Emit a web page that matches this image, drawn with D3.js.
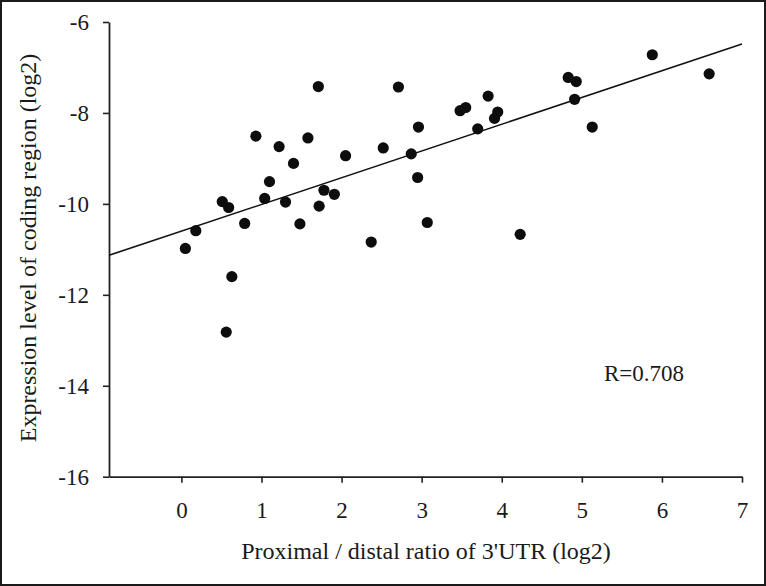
<!DOCTYPE html>
<html>
<head>
<meta charset="utf-8">
<script src="https://cdn.jsdelivr.net/npm/d3@7"></script>
<style>
  html, body { margin: 0; padding: 0; background: #fff; }
  svg { display: block; }
  text { font-family: "Liberation Serif", "Times New Roman", serif; fill: #1a1a1a; }
</style>
</head>
<body>
<svg id="chart" width="766" height="586"></svg>
<script>
// ---- data ----
const xValues = [0.05, 0.18, 0.51, 0.59, 0.56, 0.63, 0.79, 0.93, 1.04, 1.10,
                 1.22, 1.30, 1.40, 1.48, 1.58, 1.71, 1.72, 1.78, 1.91, 2.05,
                 2.37, 2.52, 2.71, 2.87, 2.95, 2.96, 3.07, 3.48, 3.55, 3.70,
                 3.83, 3.91, 3.95, 4.23, 4.83, 4.93, 4.91, 5.13, 5.88, 6.59];
const yValues = [-10.98, -10.59, -9.95, -10.08, -12.82, -11.60, -10.43, -8.51, -9.88, -9.51,
                 -8.74, -9.96, -9.11, -10.44, -8.55, -7.42, -10.05, -9.70, -9.79, -8.94,
                 -10.84, -8.77, -7.43, -8.90, -9.42, -8.31, -10.41, -7.95, -7.88, -8.35,
                 -7.63, -8.12, -7.98, -10.67, -7.22, -7.31, -7.70, -8.31, -6.72, -7.14];
const xTicks = [0, 1, 2, 3, 4, 5, 6, 7];
const yTicks = [-6, -8, -10, -12, -14, -16];
const xDomain = [-0.904, 7];
const yDomain = [-16, -6];
const fitSlope = 0.588;
const fitIntercept = -10.60;
const xTitle = "Proximal / distal ratio of 3'UTR (log2)";
const yTitle = "Expression level of coding region (log2)";
const rLabel = "R=0.708";

// ---- drawing ----
(function () {
const svg = d3.select("#chart");
const W = 766, H = 586;
const mLeft = 109, mRight = 742, mTop = 22, mBottom = 476.7;

svg.append("rect").attr("x", 1).attr("y", 1).attr("width", W - 2).attr("height", H - 2)
  .attr("fill", "#fff").attr("stroke", "#1a1a1a").attr("stroke-width", 2);

const x = d3.scaleLinear().domain(xDomain).range([mLeft, mRight]);
const y = d3.scaleLinear().domain(yDomain).range([mBottom, mTop]);

const fs = 23;

const yAxis = svg.append("g").attr("transform", `translate(${mLeft},0)`)
  .call(d3.axisLeft(y).tickValues(yTicks).tickSize(6).tickSizeOuter(0).tickPadding(14)
    .tickFormat(d => String(d)));
const xAxis = svg.append("g").attr("transform", `translate(0,${mBottom})`)
  .call(d3.axisBottom(x).tickValues(xTicks).tickSize(6).tickSizeOuter(0).tickPadding(19)
    .tickFormat(d => String(d)));

[yAxis, xAxis].forEach(g => {
  g.select(".domain").attr("stroke", "#222").attr("stroke-width", 1.8);
  g.selectAll(".tick line").attr("stroke", "#222").attr("stroke-width", 1.6);
  g.selectAll(".tick text").style("font-family", '"Liberation Serif", serif')
    .style("font-size", fs + "px").attr("fill", "#1a1a1a");
});

// regression line
svg.append("line")
  .attr("x1", x(xDomain[0])).attr("y1", y(fitSlope * xDomain[0] + fitIntercept))
  .attr("x2", x(xDomain[1])).attr("y2", y(fitSlope * xDomain[1] + fitIntercept))
  .attr("stroke", "#111").attr("stroke-width", 1.5);

// points
svg.append("g").selectAll("circle")
  .data(xValues.map((v, i) => [v, yValues[i]]))
  .join("circle")
  .attr("cx", d => x(d[0])).attr("cy", d => y(d[1]))
  .attr("r", 5.6).attr("fill", "#0d0d0d");

// titles
svg.append("text").attr("x", 426).attr("y", 559).attr("text-anchor", "middle")
  .style("font-size", "24px").text(xTitle);
svg.append("text").attr("transform", "translate(36,248) rotate(-90)").attr("text-anchor", "middle")
  .style("font-size", "24px").text(yTitle);
svg.append("text").attr("x", 604).attr("y", 381).style("font-size", fs + "px").text(rLabel);
})();
</script>
</body>
</html>
